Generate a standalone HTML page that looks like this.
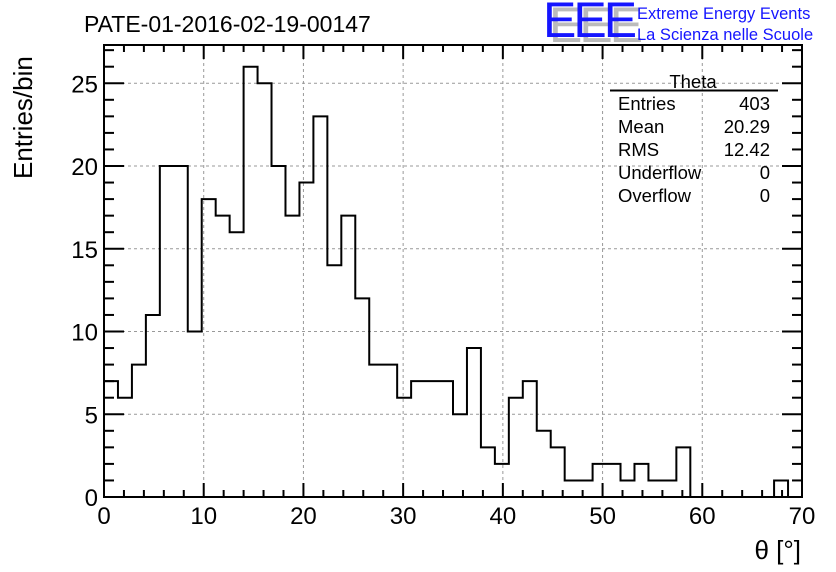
<!DOCTYPE html>
<html><head><meta charset="utf-8"><style>
body{margin:0;background:#fff;}
svg{display:block;font-family:"Liberation Sans",Arial,sans-serif;}
</style></head><body>
<svg id="chart" width="836" height="572" viewBox="0 0 836 572" xmlns="http://www.w3.org/2000/svg">
<rect width="836" height="572" fill="#fff"/>
<g id="grid"></g>
<path id="hist" fill="none" stroke="#000" stroke-width="2"/>
<g id="axes"></g>
<text x="84" y="32" font-size="23">PATE-01-2016-02-19-00147</text>
<g>
<text x="549" y="42" font-size="50" fill="#bbb" letter-spacing="-3" transform="scale(1,1)">EEE</text>
<text x="543" y="37" font-size="50" fill="#1515ff" letter-spacing="-3">EEE</text>
<text x="637" y="19" font-size="16.5" fill="#1515ff">Extreme Energy Events</text>
<text x="637" y="40" font-size="16.5" fill="#1515ff">La Scienza nelle Scuole</text>
</g>
<g font-size="18.5">
<text x="693" y="88" text-anchor="middle">Theta</text>
<line x1="610" y1="90.5" x2="778" y2="90.5" stroke="#000" stroke-width="2"/>
<text x="618" y="110">Entries</text><text x="770" y="110" text-anchor="end">403</text>
<text x="618" y="133">Mean</text><text x="770" y="133" text-anchor="end">20.29</text>
<text x="618" y="156">RMS</text><text x="770" y="156" text-anchor="end">12.42</text>
<text x="618" y="179">Underflow</text><text x="770" y="179" text-anchor="end">0</text>
<text x="618" y="202">Overflow</text><text x="770" y="202" text-anchor="end">0</text>
</g>
<text transform="translate(32,179) rotate(-90)" font-size="26">Entries/bin</text>
<text x="801" y="559" font-size="26" text-anchor="end">θ [°]</text>
</svg>
<script>
const counts=[7,6,8,11,20,20,10,18,17,16,26,25,20,17,19,23,14,17,12,8,8,6,7,7,7,5,9,3,2,6,7,4,3,1,1,2,2,1,2,1,1,3,0,0,0,0,0,0,1,0];
const xTicks=[0,10,20,30,40,50,60,70];
const yTicks=[0,5,10,15,20,25];
const xMin=0,xMax=70,binW=1.4;
const L=104,R=802,T=45,B=497,yPer=16.55;
const sx=v=>L+(v-xMin)/(xMax-xMin)*(R-L);
const sy=v=>B-v*yPer;
const NS="http://www.w3.org/2000/svg";
function mk(tag,attrs,parent){const e=document.createElementNS(NS,tag);for(const k in attrs)e.setAttribute(k,attrs[k]);parent.appendChild(e);return e;}
const grid=document.getElementById('grid'),axes=document.getElementById('axes');
xTicks.forEach(v=>{if(v>xMin&&v<xMax){const g=mk('line',{x1:sx(v),x2:sx(v),y1:T,y2:B,stroke:'#999','stroke-dasharray':'3,3','stroke-width':1},grid);

}});
yTicks.forEach(v=>{if(v>0){const g=mk('line',{x1:L,x2:R,y1:sy(v),y2:sy(v),stroke:'#999','stroke-dasharray':'3,3','stroke-width':1},grid);

}});
let d='M'+sx(0)+','+sy(0);
counts.forEach((c,i)=>{d+=' L'+sx(i*binW)+','+sy(c)+' L'+sx((i+1)*binW)+','+sy(c);});
d+=' L'+sx(counts.length*binW)+','+sy(0);
document.getElementById('hist').setAttribute('d',d);
const frame=mk('rect',{x:L,y:T,width:R-L,height:B-T,fill:'none',stroke:'#000','stroke-width':2},axes);


for(let v=xMin;v<=xMax;v+=2){const major=v%10===0;const len=major?14:7;
mk('line',{x1:sx(v),x2:sx(v),y1:B,y2:B-len,stroke:'#000','stroke-width':2},axes);
mk('line',{x1:sx(v),x2:sx(v),y1:T,y2:T+len,stroke:'#000','stroke-width':2},axes);}
for(let v=0;v<=27;v++){const major=v%5===0;const len=major?20:10;
mk('line',{x1:L,x2:L+len,y1:sy(v),y2:sy(v),stroke:'#000','stroke-width':2},axes);
mk('line',{x1:R,x2:R-len,y1:sy(v),y2:sy(v),stroke:'#000','stroke-width':2},axes);}
xTicks.forEach(v=>{const t=mk('text',{x:sx(v),y:524,'font-size':24,'text-anchor':'middle'},axes);t.textContent=v;

});
yTicks.forEach(v=>{const t=mk('text',{x:98,y:sy(v)+9,'font-size':24,'text-anchor':'end'},axes);t.textContent=v;

});
</script>
</body></html>
